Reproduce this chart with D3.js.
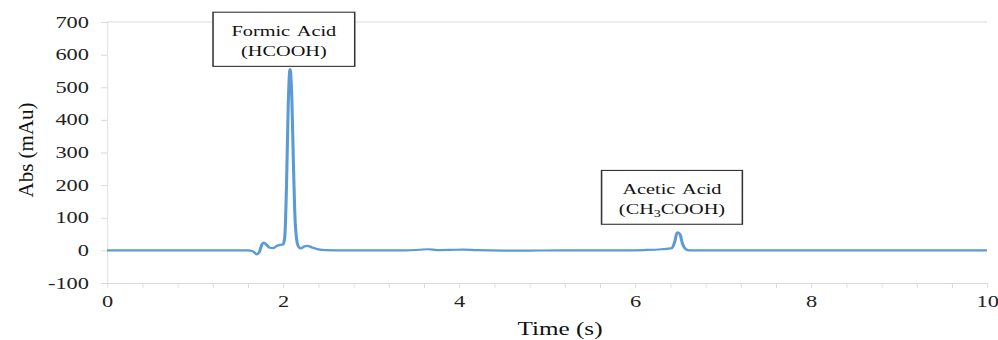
<!DOCTYPE html>
<html>
<head>
<meta charset="utf-8">
<script src="https://cdn.jsdelivr.net/npm/d3@7"></script>
<style>
  html, body { margin: 0; padding: 0; background: #fff; }
  #chart { width: 998px; height: 340px; }
  text { font-family: "Liberation Serif", "Times New Roman", serif; }
</style>
</head>
<body>
<div id="chart"></div>
<script>
// chromatogram: [time (s), abs (mAu)]
const times = [0, 1.0, 1.6, 1.66, 1.70, 1.73, 1.76, 1.78, 1.81, 1.85, 1.89, 1.93, 1.97, 2.00,
  2.02, 2.04, 2.06, 2.08, 2.10, 2.12, 2.14, 2.17, 2.20, 2.24, 2.28, 2.33, 2.40, 2.48, 2.6,
  3.4, 3.55, 3.65, 3.75, 3.9, 4.05, 4.2, 4.5, 4.8, 5.2, 5.9, 6.1, 6.3, 6.42, 6.45, 6.48,
  6.51, 6.54, 6.58, 6.62, 7, 10];
const absValues = [0, 0, 0, -3, -12, -6, 18, 24, 18, 8, 7, 14, 17, 18,
  40, 200, 450, 556, 470, 250, 80, 15, 6, 12, 14, 9, 3, 0.5, 0,
  0, 2, 3.5, 1, 1.5, 2.5, 0.5, -1, -0.5, 0, 0, 1, 3.5, 7, 25, 55,
  50, 20, 3, 0, 0, 0];

const yTicks = [-100, 0, 100, 200, 300, 400, 500, 600, 700];
const xMinorTicks = d3.range(0, 26).map(i => +(i * 0.4).toFixed(1));

// annotation boxes: centre time, top / bottom in mAu
const annoNames = ["Formic Acid", "Acetic Acid"];
const annoFormula = [["(HCOOH)"], ["(CH", "3", "COOH)"]];
const annoTime = [2.01, 6.42];
const annoHalfWidth = [0.805, 0.8];
const annoTop = [730, 245];
const annoBottom = [564, 80];

const S = 1.4; // the picture is stretched sideways
const data = times.map((t, i) => [t, absValues[i]]);

const svg = d3.select("#chart").append("svg")
  .attr("width", 998)
  .attr("height", 340);

const g = svg.append("g").attr("transform", `scale(${S},1)`);

const x = d3.scaleLinear().domain([0, 10]).range([107 / S, 987 / S]);
const y = d3.scaleLinear().domain([-100, 700]).range([283, 22]);

// top border line at 700
g.append("line")
  .attr("x1", x(0)).attr("x2", x(10))
  .attr("y1", y(700)).attr("y2", y(700))
  .attr("stroke", "#d9d9d9")
  .attr("stroke-width", 1);

// y axis
const yAxis = g.append("g")
  .attr("transform", `translate(${x(0)},0)`)
  .call(d3.axisLeft(y).tickValues(yTicks).tickSize(6 / S).tickSizeOuter(0)
    .tickFormat(d => d < 0 ? "-" + Math.abs(d) : String(d)));
yAxis.select(".domain").attr("stroke", "#d9d9d9").attr("stroke-width", 1 / S);
yAxis.selectAll(".tick line").attr("stroke", "#d9d9d9");
yAxis.selectAll(".tick text")
  .attr("x", -18 / S)
  .attr("fill", "#222")
  .style("font-size", "16px")
  .style("font-family", "'Liberation Serif', serif");

// x axis
const isMajor = v => Math.abs(v / 2 - Math.round(v / 2)) < 1e-6;
const xAxis = g.append("g")
  .attr("transform", `translate(0,${y(-100)})`)
  .call(d3.axisBottom(x).tickValues(xMinorTicks).tickSize(5).tickSizeOuter(0)
    .tickFormat(d => isMajor(d) ? d3.format("d")(d) : ""));
xAxis.select(".domain").attr("stroke", "#d9d9d9");
xAxis.selectAll(".tick line").attr("stroke", "#d9d9d9").attr("stroke-width", 1 / S);
xAxis.selectAll(".tick text")
  .attr("y", 13)
  .attr("fill", "#222")
  .style("font-size", "16px")
  .style("font-family", "'Liberation Serif', serif");

// trace
const line = d3.line()
  .x(d => x(d[0]))
  .y(d => y(d[1]))
  .curve(d3.curveMonotoneX);

g.append("path")
  .datum(data)
  .attr("fill", "none")
  .attr("stroke", "#5B9BD5")
  .attr("stroke-width", 2.2)
  .attr("stroke-linejoin", "round")
  .attr("d", line);

// axis titles
g.append("text")
  .attr("x", 560 / S)
  .attr("y", 335)
  .attr("text-anchor", "middle")
  .attr("fill", "#111")
  .style("font-size", "18px")
  .text("Time (s)");

svg.append("text")
  .attr("transform", `translate(33,150) rotate(-90)`)
  .attr("text-anchor", "middle")
  .attr("fill", "#111")
  .style("font-size", "21px")
  .text("Abs (mAu)");

// annotation boxes
annoNames.forEach((name, i) => {
  const cx = x(annoTime[i]);
  const x0 = x(annoTime[i] - annoHalfWidth[i]);
  const x1 = x(annoTime[i] + annoHalfWidth[i]);
  const top = y(annoTop[i]);
  const bottom = y(annoBottom[i]);
  const a = g.append("g");
  a.append("rect")
    .attr("x", x0).attr("y", top)
    .attr("width", x1 - x0).attr("height", bottom - top)
    .attr("fill", "#fff")
    .attr("stroke", "#333")
    .attr("stroke-width", 1.1);
  const mid = (top + bottom) / 2;
  a.append("text")
    .attr("x", cx).attr("y", mid - 3)
    .attr("text-anchor", "middle")
    .attr("fill", "#111")
    .style("font-size", "14.5px")
    .style("word-spacing", "2px")
    .text(name);
  const f = a.append("text")
    .attr("x", cx).attr("y", mid + 17)
    .attr("text-anchor", "middle")
    .attr("fill", "#111")
    .style("font-size", "14.5px");
  annoFormula[i].forEach((part, j) => {
    if (part === "3") {
      f.append("tspan").attr("dy", 3).style("font-size", "10px").text(part);
    } else {
      f.append("tspan").attr("dy", j > 0 ? -3 : 0).text(part);
    }
  });
});
</script>
</body>
</html>
